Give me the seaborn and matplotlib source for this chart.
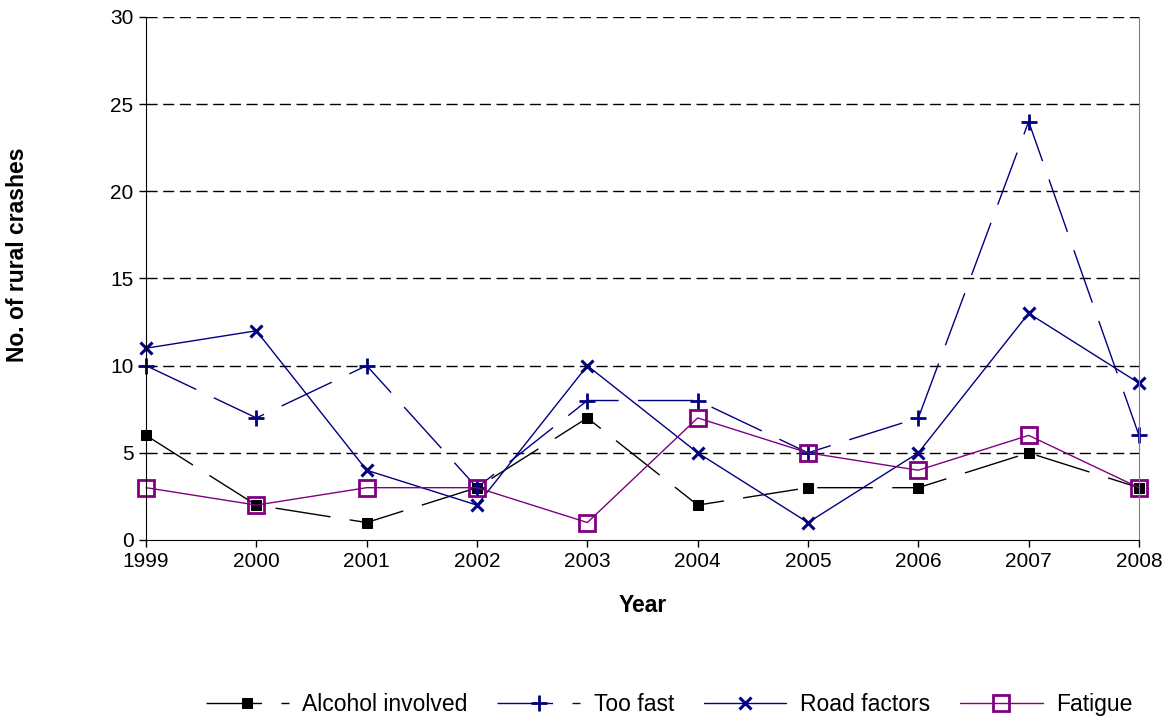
import numpy as np
import pandas as pd
import matplotlib
matplotlib.use('Agg')
import matplotlib.pyplot as plt
import seaborn as sns

years = [1999, 2000, 2001, 2002, 2003, 2004, 2005, 2006, 2007, 2008]
alcohol = [6, 2, 1, 3, 7, 2, 3, 3, 5, 3]
too_fast = [10, 7, 10, 3, 8, 8, 5, 7, 24, 6]
road = [11, 12, 4, 2, 10, 5, 1, 5, 13, 9]
fatigue = [3, 2, 3, 3, 1, 7, 5, 4, 6, 3]

sns.set_style('white')
plt.rcParams['font.family'] = ['Liberation Sans', 'DejaVu Sans']
plt.rcParams['text.color'] = 'black'
plt.rcParams['axes.labelcolor'] = 'black'
plt.rcParams['xtick.color'] = 'black'
plt.rcParams['ytick.color'] = 'black'

fig = plt.figure(figsize=(11.73, 7.17), dpi=100)
ax = fig.add_axes([0.1245, 0.2469, 0.8465, 0.7294])

navy = '#000080'
purple = '#800080'
long_dash = (0, (40, 14))

sns.lineplot(x=years, y=alcohol, ax=ax, color='black', lw=1, marker='s', ms=7,
             mfc='black', mec='black', linestyle=long_dash, label='Alcohol involved', clip_on=False)
sns.lineplot(x=years, y=too_fast, ax=ax, color=navy, lw=1, marker='+', ms=12, mew=2,
             mec=navy, linestyle=long_dash, label='Too fast', clip_on=False)
sns.lineplot(x=years, y=road, ax=ax, color=navy, lw=1, marker='x', ms=9, mew=2.2,
             mec=navy, label='Road factors', clip_on=False)
sns.lineplot(x=years, y=fatigue, ax=ax, color=purple, lw=1, marker='s', ms=11, mew=2,
             mfc='none', mec=purple, label='Fatigue', clip_on=False)

ax.set_xlim(1999, 2008)
ax.set_ylim(0, 30)
ax.set_xticks(years)
ax.set_yticks(range(0, 31, 5))
for y in range(5, 31, 5):
    ax.axhline(y, color='black', lw=1, linestyle=(0, (8, 4)), zorder=0)

ax.tick_params(axis='both', labelsize=15, length=5, width=1, direction='out',
               bottom=True, left=True, pad=4)
ax.spines['top'].set_visible(False)
ax.spines['left'].set_color('black')
ax.spines['bottom'].set_color('black')
ax.spines['right'].set_color('#808080')

ax.set_xlabel('Year', fontsize=16.5, fontweight='bold', labelpad=16)
ax.set_ylabel('No. of rural crashes', fontsize=16.5, fontweight='bold')
ax.yaxis.set_label_coords(-0.118, 0.545)

ax.legend(loc='center', bbox_to_anchor=(0.527, -0.315), ncol=4, frameon=False,
          fontsize=16.5, handlelength=3.6, columnspacing=1.3, handletextpad=0.6)

fig.savefig('out.png', dpi=100)
